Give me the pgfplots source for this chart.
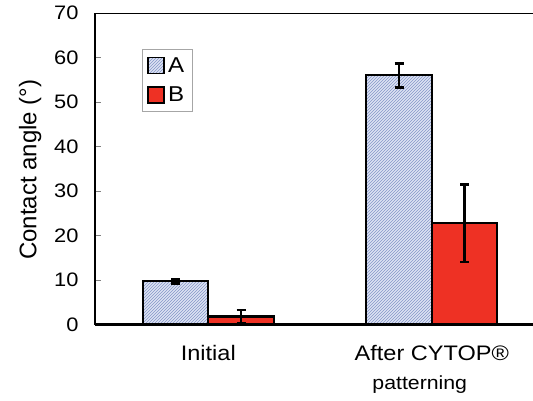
\documentclass[border=0pt]{standalone}
\usepackage{pgfplots}
\pgfplotsset{compat=1.18}
\usetikzlibrary{patterns}
\usepackage{fontspec}
\setmainfont[FakeStretch=1.12]{Liberation Sans}
\newfontfamily\ylabfont{Liberation Sans}
\definecolor{Afill}{HTML}{DDE3F3}
\definecolor{Aline}{HTML}{8496C8}
\definecolor{Bfill}{HTML}{EE3124}
\begin{document}
\begin{tikzpicture}
\begin{axis}[
  scale only axis, width=438pt, height=311.5pt,
  ymin=0, ymax=70, ytick={0,10,...,70},
  xmin=-0.507, xmax=1.453,
  axis x line*=bottom, axis y line*=left,
  axis line style={line width=2.8pt},
  ybar=0pt, bar width=0.293,
  xtick={0,1},
  xticklabels={Initial,{After CYTOP®\\{\fontsize{19}{28}\selectfont patterning\hspace*{24pt}}}},
  xticklabel style={align=center, yshift=-17pt, anchor=north, font=\fontsize{21}{29}\selectfont},
  major x tick style={draw=none},
  extra x ticks={0.5}, extra x tick labels={},
  extra x tick style={major tick style={draw=gray, line width=0.6pt}, major tick length=7pt},
  tick align=inside,
  major y tick style={draw=gray, line width=0.6pt},
  major tick length=6pt,
  yticklabel style={font=\fontsize{19.5}{22}\selectfont, xshift=-13pt},
  /pgf/number format/assume math mode=true,
  ylabel={\ylabfont\fontsize{24}{26}\selectfont Contact angle (°)},
  ylabel style={at={(axis description cs:-0.148,0.497)}, anchor=center, rotate=0},
  legend style={at={(axis description cs:0.107,0.884)}, anchor=north west,
    draw=gray!70, line width=1pt, font=\fontsize{21.5}{22}\selectfont,
    inner xsep=5pt, inner ysep=7pt, row sep=12pt,
    nodes={inner xsep=3pt, inner ysep=0pt}},
  legend image code/.code={\draw[#1, line width=1.8pt] (0pt,-8pt) rectangle (16pt,8pt);},
  legend cell align=left,
  error bars/error bar style={line width=2.5pt, black},
  error bars/error mark options={rotate=90, mark size=4.5pt, line width=2.5pt, black},
]
\addplot[draw=black, line width=2.2pt, fill=Afill,
  postaction={pattern=north east lines, pattern color=Aline},
  error bars/.cd, y dir=both, y explicit]
  coordinates {(0,9.7) +- (0,0.5) (1,56.0) +- (0,2.7)};
\addplot[draw=black, line width=2.2pt, fill=Bfill,
  error bars/.cd, y dir=both, y explicit]
  coordinates {(0,1.8) +- (0,1.5) (1,22.8) +- (0,8.7)};
\legend{A,B}
\draw[line width=2.8pt] (rel axis cs:0,1) -- (rel axis cs:1,1);
\end{axis}
\pgfresetboundingbox
\path[use as bounding box] (-95pt,-75.5pt) rectangle (438pt,324.5pt);
\end{tikzpicture}
\end{document}
